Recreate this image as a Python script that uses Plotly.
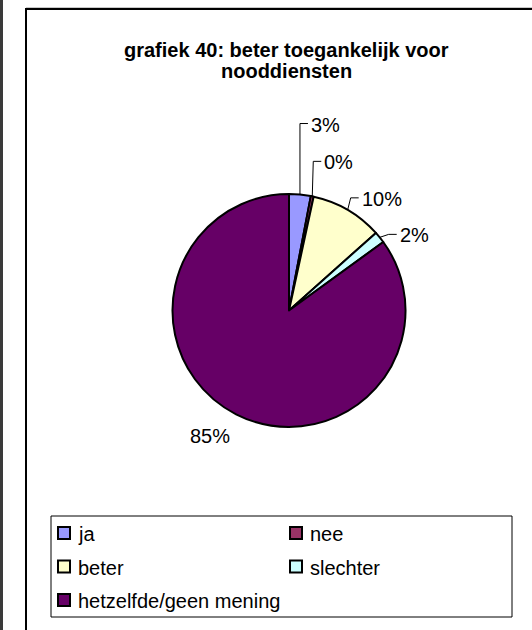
import math

import plotly.graph_objects as go

labels = ["ja", "nee", "beter", "slechter", "hetzelfde/geen mening"]
values = [3.0, 0.4, 10.0, 1.6, 85.0]
colors = ["#9999FF", "#993366", "#FFFFCC", "#CCFFFF", "#660066"]
title_lines = ["grafiek 40: beter toegankelijk voor", "nooddiensten"]

W, H = 532, 630
FONT = "Liberation Sans, Arial, sans-serif"
CX, CY, R = 289, 310.5, 116.5

# where each label's leader line bends, relative to the point where it leaves the pie (px)
# None means the label just sits next to the slice without a leader
leader_bends = [(0, -71), (1, -35), (3, -12), (9, -3), None]


def xp(px: float) -> float:
    return px / W


def yp(py: float) -> float:
    return 1 - py / H


fig = go.Figure(
    go.Pie(
        labels=labels,
        values=values,
        marker={"colors": colors, "line": {"color": "black", "width": 2}},
        sort=False,
        direction="clockwise",
        rotation=0,
        textinfo="none",
        hoverinfo="label+percent",
        showlegend=False,
        domain={"x": [xp(CX - R), xp(CX + R)], "y": [yp(CY + R), yp(CY - R)]},
    )
)

total = sum(values)
annotations = []
shapes = []

# percentage labels with Excel-style leader lines
start = 0.0
for val, bend in zip(values, leader_bends):
    mid = (start + val / 2) / total * 2 * math.pi
    start += val
    ex, ey = CX + R * math.sin(mid), CY - R * math.cos(mid)
    txt = f"{round(100 * val / total)}%"
    if bend is None:
        annotations.append(dict(x=xp(ex - 26), y=yp(ey + 22), text=txt, xanchor="center", yanchor="middle"))
        continue
    bx, by = ex + bend[0], ey + bend[1]
    shapes.append(
        dict(
            type="path",
            path=f"M{xp(ex)},{yp(ey)} L{xp(bx)},{yp(by)} L{xp(bx + 8)},{yp(by)}",
            line={"color": "black", "width": 1},
        )
    )
    annotations.append(dict(x=xp(bx + 9), y=yp(by + 1), text=txt, xanchor="left", yanchor="middle"))

# title, two lines at Excel's tighter line spacing
for i, line in enumerate(title_lines):
    annotations.append(
        dict(x=xp(286), y=yp(50 + 21 * i), text=f"<b>{line}</b>", xanchor="center", yanchor="middle")
    )

# legend box: two columns, filled row by row
LX0, LY0, LX1, LY1 = 51, 516, 512, 617
shapes.append(dict(type="rect", x0=xp(LX0), y0=yp(LY1), x1=xp(LX1), y1=yp(LY0),
                   line={"color": "black", "width": 1}, fillcolor="white"))
for i, (lab, col) in enumerate(zip(labels, colors)):
    sx = 58 + 232 * (i % 2)
    sy = 533 + 33.5 * (i // 2)
    shapes.append(dict(type="rect", x0=xp(sx), y0=yp(sy + 6), x1=xp(sx + 12), y1=yp(sy - 6),
                       line={"color": "black", "width": 2}, fillcolor=col))
    annotations.append(dict(x=xp(sx + 18), y=yp(sy + 1), text=lab, xanchor="left", yanchor="middle"))

for a in annotations:
    a.update(xref="paper", yref="paper", showarrow=False, font={"family": FONT, "size": 20, "color": "black"})

# chart frame (runs off the page on the right and bottom) and the dark edge on the left
shapes.append(dict(type="line", x0=xp(26), y0=yp(7.5), x1=1.1, y1=yp(7.5),
                   line={"color": "#c8c8c8", "width": 1}, layer="below"))
shapes.append(dict(type="rect", x0=xp(26), y0=-0.1, x1=1.1, y1=yp(9),
                   line={"color": "black", "width": 2}, layer="below"))
shapes.append(dict(type="rect", x0=0, y0=0, x1=xp(3), y1=1,
                   fillcolor="#3a3a3a", line={"width": 0}))
for s in shapes:
    s.update(xref="paper", yref="paper")

fig.update_layout(
    width=W,
    height=H,
    margin={"l": 0, "r": 0, "t": 0, "b": 0, "autoexpand": False},
    paper_bgcolor="white",
    font={"family": FONT, "color": "black"},
    showlegend=False,
    annotations=annotations,
    shapes=shapes,
)

fig.write_html(
    "out.html",
    config={"displayModeBar": False},
    post_script="document.body.style.margin = '0';",
)
